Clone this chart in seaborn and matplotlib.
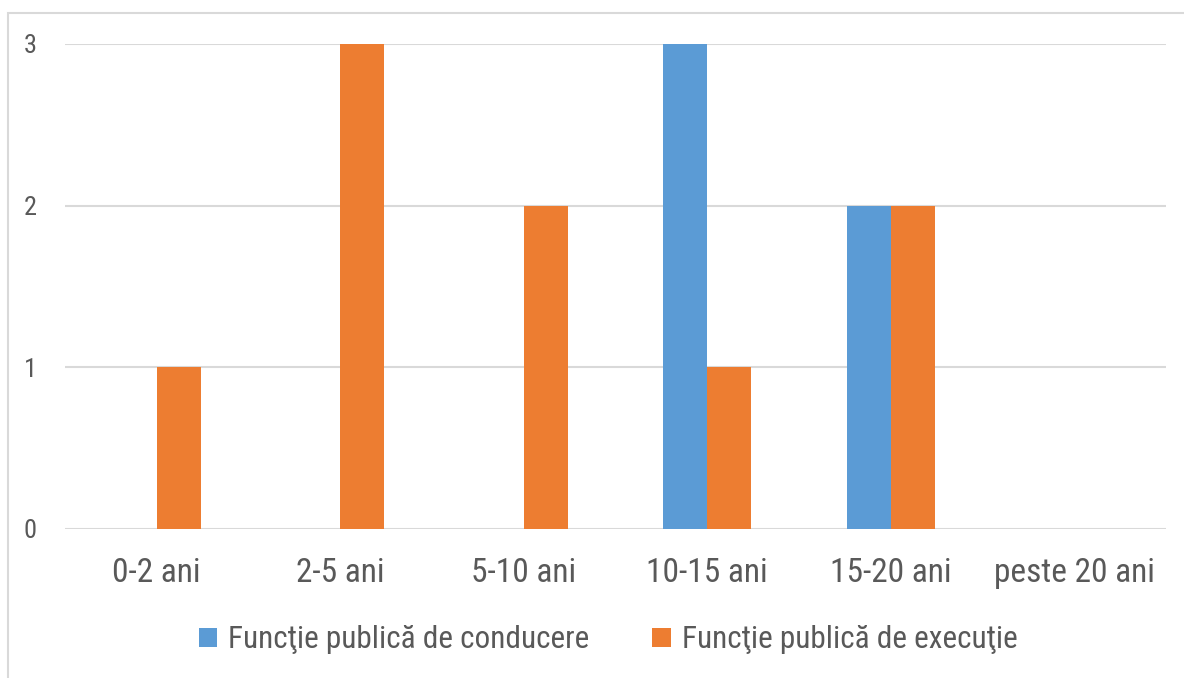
import matplotlib
matplotlib.use("Agg")
import matplotlib.pyplot as plt
import seaborn as sns
import pandas as pd
from matplotlib.patches import Rectangle
from matplotlib import font_manager

categories = ["0-2 ani", "2-5 ani", "5-10 ani", "10-15 ani", "15-20 ani", "peste 20 ani"]
series_names = ["Funcţie publică de conducere", "Funcţie publică de execuţie"]
conducere = [0, 0, 0, 3, 2, 0]
executie = [1, 3, 2, 1, 2, 0]
yticks = [0, 1, 2, 3]

colors = ["#5B9BD5", "#ED7D31"]
text_color = "#595959"
grid_color = "#D9D9D9"

sns.set_theme(style="white")
avail = {f.name for f in font_manager.fontManager.ttflist}
fam = [f for f in ["Roboto Condensed", "Liberation Sans Narrow", "Roboto", "DejaVu Sans"] if f in avail]
plt.rcParams["font.family"] = fam

df = pd.DataFrame({
    "cat": categories * 2,
    "val": conducere + executie,
    "ser": [series_names[0]] * len(categories) + [series_names[1]] * len(categories),
})

fig = plt.figure(figsize=(11.84, 6.78), dpi=100)
ax = fig.add_axes([65 / 1184, 1 - 529 / 678, (1166 - 65) / 1184, (529 - 44) / 678])

sns.barplot(data=df, x="cat", y="val", hue="ser", palette=colors, width=0.48,
            gap=0, saturation=1, ax=ax, legend=True, edgecolor="none")

ax.set_ylim(0, 3)
ax.set_yticks(yticks)
ax.set_xlim(-0.5, len(categories) - 0.5)
ax.set_xlabel("")
ax.set_ylabel("")
for s in ax.spines.values():
    s.set_visible(False)
ax.yaxis.grid(True, color=grid_color, linewidth=1.5)
ax.set_axisbelow(True)
ax.tick_params(axis="y", length=0, pad=25, labelsize=19, labelcolor=text_color)
ax.tick_params(axis="x", length=0, pad=20, labelsize=24, labelcolor=text_color)
for lbl in ax.get_yticklabels():
    lbl.set_horizontalalignment("center")

handles, labels = ax.get_legend_handles_labels()
ax.legend(handles, labels, loc="center", bbox_to_anchor=(608 / 1184, 1 - 640 / 678),
          bbox_transform=fig.transFigure, ncol=2, frameon=False, fontsize=22.5,
          labelcolor=text_color, handlelength=0.6, handleheight=0.6,
          handletextpad=0.35, columnspacing=2.0)

fig.patches.append(Rectangle((8 / 1184, -0.01), 1.1, 1 - 13 / 678 + 0.01,
                             transform=fig.transFigure, fill=False,
                             edgecolor=grid_color, linewidth=1.5))

fig.savefig("out.png", dpi=100)
